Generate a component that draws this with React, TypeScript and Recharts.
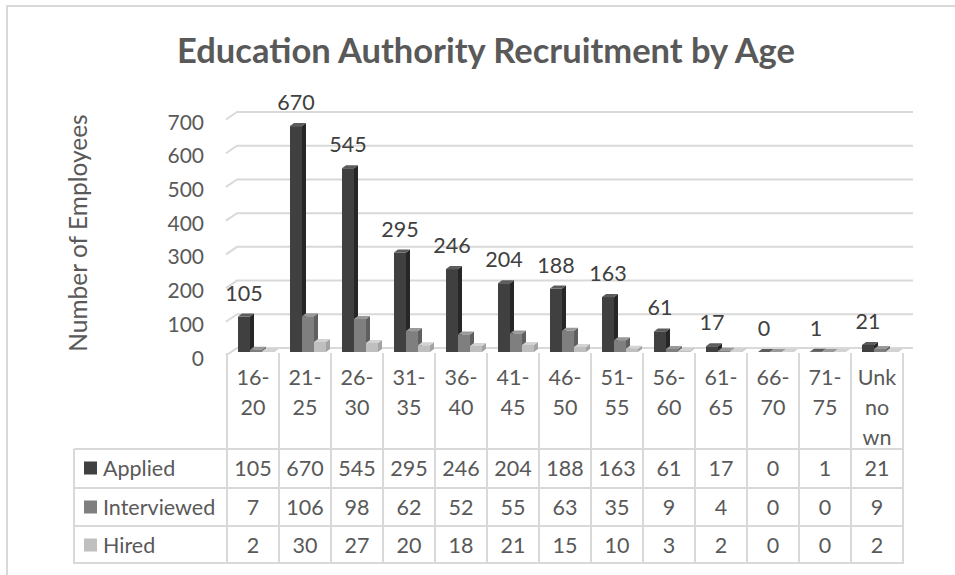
import { Bar, BarChart, CartesianGrid, LabelList, XAxis, YAxis } from 'recharts';

const ageGroups = ['16-20', '21-25', '26-30', '31-35', '36-40', '41-45', '46-50', '51-55', '56-60', '61-65', '66-70', '71-75', 'Unknown'];
const ageTickLines = [
  ['16-', '20'], ['21-', '25'], ['26-', '30'], ['31-', '35'], ['36-', '40'], ['41-', '45'], ['46-', '50'],
  ['51-', '55'], ['56-', '60'], ['61-', '65'], ['66-', '70'], ['71-', '75'], ['Unk', 'no', 'wn'],
];
const applied = [105, 670, 545, 295, 246, 204, 188, 163, 61, 17, 0, 1, 21];
const interviewed = [7, 106, 98, 62, 52, 55, 63, 35, 9, 4, 0, 0, 9];
const hired = [2, 30, 27, 20, 18, 21, 15, 10, 3, 2, 0, 0, 2];
const seriesNames = ['Applied', 'Interviewed', 'Hired'];
const yTicks = [0, 100, 200, 300, 400, 500, 600, 700];

const seriesValues = [applied, interviewed, hired];
const colors = [
  { front: '#404040', side: '#262626', top: '#5c5c5c', key: '#404040' },
  { front: '#7f7f7f', side: '#5f5f5f', top: '#999999', key: '#7f7f7f' },
  { front: '#bfbfbf', side: '#a3a3a3', top: '#d3d3d3', key: '#bfbfbf' },
];

const W = 955;
const H = 575;
const M = { top: 116, right: 52, bottom: 13, left: 120 };
const AXIS_W = 107;
const XAXIS_H = 210;
const bandW = (W - M.left - AXIS_W - M.right) / ageGroups.length;
const font = 'Lato, "Open Sans", sans-serif';
const grid = '#d9d9d9';
const textCol = '#595959';

const data = ageGroups.map((age, i) => ({
  age,
  applied: applied[i],
  interviewed: interviewed[i],
  hired: hired[i],
}));

// Excel-ish 3D column: front face, right side, top
const column3d = (c: typeof colors[number]) => (props: any) => {
  const { x, y, width, height } = props;
  if (x == null || y == null) return <g />;
  const fx = x + 3;
  const d = 4;
  const dy = 3;
  const h = Math.max(height || 0, 0);
  return (
    <g>
      <polygon points={`${fx + width},${y} ${fx + width + d},${y - dy} ${fx + width + d},${y + h - dy} ${fx + width},${y + h}`} fill={c.side} />
      <polygon points={`${fx},${y} ${fx + d},${y - dy} ${fx + width + d},${y - dy} ${fx + width},${y}`} fill={c.top} />
      <rect x={fx} y={y} width={width} height={h} fill={c.front} />
    </g>
  );
};

const gridLine = (p: any) => (
  <polyline
    key={`gl-${p.index}-${p.y1}`}
    points={`${p.x1 - 1},${p.y1 + 3.5} ${p.x1 + 10},${p.y1 - 4} ${p.x2 + 10},${p.y1 - 4}`}
    fill="none"
    stroke={grid}
    strokeWidth={2}
  />
);

const YTick = ({ x, y, payload }: any) => (
  <text x={x} y={y + 5} textAnchor="end" dominantBaseline="central" fill={textCol} fontSize={21} fontFamily={font}>
    {payload.value}
  </text>
);

const TableTick = ({ x, y, payload }: any) => {
  const i = payload.index;
  const floor = y - 6;
  const l = x - bandW / 2;
  const r = x + bandW / 2;
  const rowLines = [97, 136, 174, 211];
  const rowMid = [116, 155, 193];
  return (
    <g fontFamily={font} fontSize={21.5} fill={textCol}>
      <line x1={l} y1={floor + 1} x2={l} y2={floor + 212} stroke={grid} strokeWidth={2} />
      <line x1={r} y1={floor + 1} x2={r} y2={floor + 212} stroke={grid} strokeWidth={2} />
      {rowLines.map((dy) => (
        <line key={dy} x1={l} y1={floor + dy} x2={r} y2={floor + dy} stroke={grid} strokeWidth={2} />
      ))}
      {ageTickLines[i].map((t, k) => (
        <text key={k} x={x} y={floor + 25 + k * 30} textAnchor="middle" dominantBaseline="central">
          {t}
        </text>
      ))}
      {seriesValues.map((vals, k) => (
        <text key={`v${k}`} x={x} y={floor + rowMid[k]} textAnchor="middle" dominantBaseline="central">
          {vals[i]}
        </text>
      ))}
    </g>
  );
};

const DataLabel = (p: any) => {
  const vb = p.viewBox || p;
  const x = (vb.x ?? p.x) + (vb.width ?? p.width) / 2 + 3;
  const y = vb.y ?? p.y;
  return (
    <text x={x} y={y - 16} textAnchor="middle" fill="#404040" fontSize={21.5} fontFamily={font}>
      {p.value}
    </text>
  );
};

export default function App() {
  const floor = H - M.bottom - XAXIS_H;
  const tableL = 74;
  const tableR = M.left + AXIS_W;
  return (
    <div style={{ position: 'absolute', left: 0, top: 0, width: W, height: H, background: '#fff', overflow: 'hidden' }}>
      <div style={{ position: 'absolute', left: 6, top: 5, width: W + 20, height: H + 20, borderLeft: `2px solid ${grid}`, borderTop: `2px solid ${grid}` }} />
      <BarChart width={W} height={H} data={data} margin={M} barCategoryGap={8} barGap={0} style={{ position: 'absolute', left: 0, top: 0 }}>
        <CartesianGrid vertical={false} horizontal={gridLine} />
        <XAxis dataKey="age" interval={0} height={XAXIS_H} axisLine={false} tickLine={false} tickSize={6} tickMargin={0} tick={(p: any) => <TableTick {...p} />} />
        <YAxis width={AXIS_W} domain={[0, 700]} ticks={yTicks} axisLine={false} tickLine={false} tickMargin={17} tick={(p: any) => <YTick {...p} />} />
        <Bar dataKey="applied" name={seriesNames[0]} isAnimationActive={false} shape={column3d(colors[0])}>
          <LabelList dataKey="applied" content={DataLabel} />
        </Bar>
        <Bar dataKey="interviewed" name={seriesNames[1]} isAnimationActive={false} shape={column3d(colors[1])} />
        <Bar dataKey="hired" name={seriesNames[2]} isAnimationActive={false} shape={column3d(colors[2])} />
      </BarChart>
      <svg width={W} height={H} style={{ position: 'absolute', left: 0, top: 0, pointerEvents: 'none' }} fontFamily={font}>
        <text x={486} y={49} textAnchor="middle" dominantBaseline="central" fontSize={34.5} fontWeight={700} fill={textCol}>
          Education Authority Recruitment by Age
        </text>
        <text transform={`translate(77,233) rotate(-90)`} textAnchor="middle" dominantBaseline="central" fontSize={24.5} fill={textCol}>
          Number of Employees
        </text>
        {[97, 136, 174, 211].map((dy) => (
          <line key={dy} x1={tableL} y1={floor + dy} x2={tableR} y2={floor + dy} stroke={grid} strokeWidth={2} />
        ))}
        <line x1={tableL} y1={floor + 97} x2={tableL} y2={floor + 212} stroke={grid} strokeWidth={2} />
        {seriesNames.map((n, k) => {
          const cy = floor + [116, 155, 193][k];
          return (
            <g key={n}>
              <rect x={84} y={cy - 6.5} width={13} height={13} fill={colors[k].key} />
              <text x={103} y={cy} dominantBaseline="central" fontSize={21.5} fill={textCol}>
                {n}
              </text>
            </g>
          );
        })}
      </svg>
    </div>
  );
}
